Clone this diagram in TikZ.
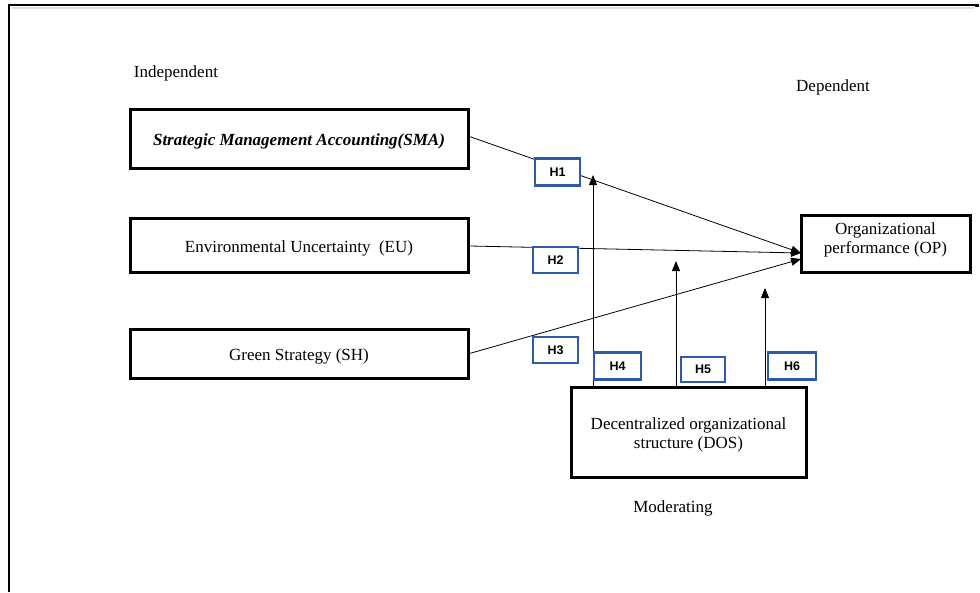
\documentclass[tikz,border=0pt]{standalone}
\usepackage{fontspec}
\setmainfont{Liberation Serif}
\newfontfamily\hfont{Liberation Sans}
\usetikzlibrary{arrows.meta}
\definecolor{hblue}{RGB}{47,90,170}
\begin{document}
\begin{tikzpicture}[x=1pt,y=-1pt,
  varbox/.style={draw,line width=3pt,inner sep=0pt,font=\fontsize{17}{19}\selectfont,align=center},
  onebox/.style={varbox,text height=16pt,text depth=2pt},
  hbox/.style={draw=hblue,line width=2.6pt,inner sep=0pt,font=\hfont\bfseries\fontsize{12.5}{14}\selectfont},
  lbl/.style={font=\fontsize{17}{19}\selectfont,inner sep=0pt},
  conn/.style={line width=0.8pt,-{Triangle[length=10pt,width=8pt]}}]
\useasboundingbox (0,0) rectangle (980,592);
% frame
\draw[gray!25,line width=2pt] (12,7.5) -- (974,7.5);
\draw[line width=2pt] (9,592) -- (9,5) -- (975,5) -- (978,5);
\draw[line width=3pt] (975,5.5) -- (979,5.5);
% variable boxes
\node[onebox,minimum width=338pt,minimum height=59pt] (sma) at (299,138.5) {\bfseries\itshape Strategic Management Accounting(SMA)};
\node[onebox,minimum width=338pt,minimum height=54pt] (eu) at (299,245) {Environmental Uncertainty\ \ (EU)};
\node[onebox,minimum width=338pt,minimum height=49pt] (sh) at (299,353.5) {Green Strategy (SH)};
\node[varbox,minimum width=169pt,minimum height=57pt] (op) at (885.5,243.5) {};
\node[lbl,align=center] (optext) at (885.5,240) {Organizational\\performance (OP)};
\node[varbox,minimum width=235pt,minimum height=90pt] (dos) at (688.5,432) {};
\node[lbl,align=center] (dostext) at (688.5,435) {Decentralized organizational\\structure (DOS)};
% labels
\node[lbl] (ind) at (176,73) {Independent};
\node[lbl] (dep) at (833,87) {Dependent};
\node[lbl] (mod) at (673,508) {Moderating};
% connectors
\coordinate (opin1) at (801,253);
\coordinate (opin2) at (801,259);
\draw[conn] (sma.east) ++(0,-2) -- (opin1);
\draw[conn] (eu.east) ++(0,1) -- (opin1);
\draw[conn] (sh.east) -- (opin2);
\coordinate (m4) at (593,175);
\coordinate (m5) at (676,261);
\coordinate (m6) at (765,288);
\draw[conn] (dos.north -| m4) -- (m4);
\draw[conn] (dos.north -| m5) -- (m5);
\draw[conn] (dos.north -| m6) -- (m6);
% hypothesis boxes
\node[hbox,fill=white,minimum width=45pt,minimum height=27pt] (h1) at (557.5,172) {H1};
\node[hbox,fill=white,minimum width=45pt,minimum height=26pt] (h2) at (555.5,260) {H2};
\node[hbox,fill=white,minimum width=45pt,minimum height=26pt] (h3) at (555.5,350) {H3};
\node[hbox,fill=white,minimum width=47pt,minimum height=27pt] (h4) at (617.5,366) {H4};
\node[hbox,fill=white,minimum width=44pt,minimum height=25pt] (h5) at (703,369.5) {H5};
\node[hbox,fill=white,minimum width=48pt,minimum height=27pt] (h6) at (792,366) {H6};
\end{tikzpicture}
\end{document}
